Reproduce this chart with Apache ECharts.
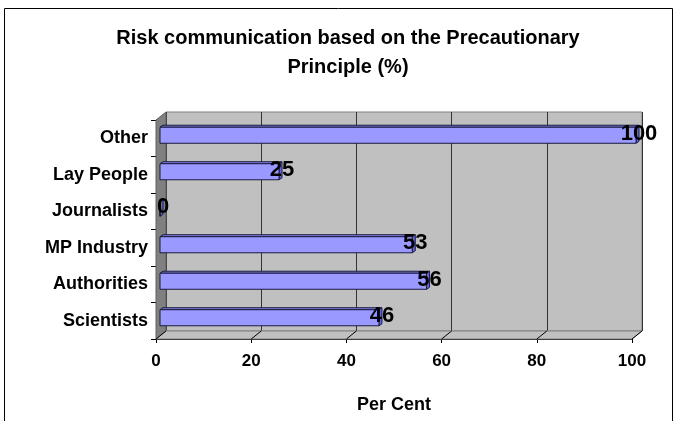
<!DOCTYPE html>
<html>
<head>
<meta charset="utf-8">
<script src="https://cdn.jsdelivr.net/npm/echarts@6/dist/echarts.min.js"></script>
<style>
  html, body { margin: 0; padding: 0; background: #fff; }
  #main { width: 677px; height: 421px; }
</style>
</head>
<body>
<div id="main"></div>
<script>
// categories listed bottom to top, as the category axis draws them
const categories = ['Scientists', 'Authorities', 'MP Industry', 'Journalists', 'Lay People', 'Other']
const values = [46, 56, 53, 0, 25, 100]
const xTicks = [0, 20, 40, 60, 80, 100]

const FONT = '"Liberation Sans", Arial, sans-serif'
// depth of the fake 3d box and of each bar
const DX = 10
const DY = -8
const BAR_DX = 3
const BAR_DY = -2

const chart = echarts.init(document.getElementById('main'))

function renderFrame (params, api) {
  const cs = params.coordSys
  const left = cs.x
  const top = cs.y
  const right = cs.x + cs.width
  const bottom = cs.y + cs.height
  const children = [
    // side wall
    {
      type: 'polygon',
      shape: { points: [[left, top], [left + DX, top + DY], [left + DX, bottom + DY], [left, bottom]] },
      style: { fill: '#808080', stroke: '#606060', lineWidth: 1 }
    },
    // floor
    {
      type: 'polygon',
      shape: { points: [[left, bottom], [left + DX, bottom + DY], [right + DX, bottom + DY], [right, bottom]] },
      style: { fill: '#c0c0c0', stroke: '#808080', lineWidth: 1 }
    }
  ]
  xTicks.forEach(t => {
    const p = api.coord([t, 0])
    children.push({
      type: 'line',
      shape: { x1: p[0], y1: bottom, x2: p[0] + DX, y2: bottom + DY },
      style: { stroke: '#000', lineWidth: 1 }
    })
  })
  return { type: 'group', children }
}

function renderBar (params, api) {
  const val = api.value(0)
  const cat = api.value(1)
  const start = api.coord([0, cat])
  const end = api.coord([val, cat])
  const band = api.size([0, 1])[1]
  const h = band * 0.44
  const x0 = start[0] + 4
  const x1 = end[0] + 4
  const yTop = start[1] - 3 - h / 2
  const yBot = yTop + h
  const stroke = '#1a1a40'
  return {
    type: 'group',
    children: [
      {
        type: 'polygon',
        shape: { points: [[x0, yTop], [x0 + BAR_DX, yTop + BAR_DY], [x1 + BAR_DX, yTop + BAR_DY], [x1, yTop]] },
        style: { fill: '#8080e0', stroke: stroke, lineWidth: 1 }
      },
      {
        type: 'polygon',
        shape: { points: [[x1, yTop], [x1 + BAR_DX, yTop + BAR_DY], [x1 + BAR_DX, yBot + BAR_DY], [x1, yBot]] },
        style: { fill: '#6666cc', stroke: stroke, lineWidth: 1 }
      },
      {
        type: 'rect',
        shape: { x: x0, y: yTop, width: x1 - x0, height: h },
        style: { fill: '#9999ff', stroke: stroke, lineWidth: 1 }
      },
      {
        type: 'text',
        style: {
          text: String(val),
          x: end[0] + 7,
          y: start[1] - 4.5,
          align: 'center',
          verticalAlign: 'middle',
          font: 'bold 22px ' + FONT,
          fill: '#000'
        }
      }
    ]
  }
}

chart.setOption({
  animation: false,
  title: {
    text: 'Risk communication based on the Precautionary\nPrinciple (%)',
    left: 348,
    top: 24,
    padding: 0,
    textAlign: 'center',
    textStyle: { fontFamily: FONT, fontWeight: 'bold', fontSize: 20, lineHeight: 29, color: '#000' }
  },
  graphic: [{
    type: 'rect',
    silent: true,
    z: -10,
    shape: { x: 4.5, y: 8.5, width: 668, height: 440 },
    style: { fill: 'none', stroke: '#000', lineWidth: 1 }
  }],
  grid: [
    // back wall
    { left: 166, right: 35, top: 112, bottom: 90, show: true, backgroundColor: '#c0c0c0', borderColor: '#808080', borderWidth: 1 },
    // front plane
    { left: 156, right: 45, top: 120, bottom: 82 }
  ],
  xAxis: [
    {
      gridIndex: 0,
      type: 'value',
      min: 0,
      max: 100,
      interval: 20,
      axisLine: { show: false },
      axisTick: { show: false },
      axisLabel: { show: false },
      splitLine: { show: true, lineStyle: { color: '#333', width: 1 } }
    },
    {
      gridIndex: 1,
      type: 'value',
      min: 0,
      max: 100,
      interval: 20,
      name: 'Per Cent',
      nameLocation: 'middle',
      nameGap: 57,
      nameTextStyle: { fontFamily: FONT, fontWeight: 'bold', fontSize: 18, color: '#000' },
      axisLine: { show: true, lineStyle: { color: '#000', width: 1 } },
      axisTick: { show: true, length: 4, lineStyle: { color: '#000' } },
      axisLabel: { margin: 14, fontFamily: FONT, fontWeight: 'bold', fontSize: 17, color: '#000' },
      splitLine: { show: false }
    }
  ],
  yAxis: [
    { gridIndex: 0, type: 'category', data: categories, show: false },
    {
      gridIndex: 1,
      type: 'category',
      data: categories,
      axisLine: { show: true, lineStyle: { color: '#000', width: 1 } },
      axisTick: { show: true, length: 5, lineStyle: { color: '#000' } },
      axisLabel: { margin: 8, fontFamily: FONT, fontWeight: 'bold', fontSize: 18, color: '#000' }
    }
  ],
  series: [
    {
      type: 'custom',
      name: 'frame',
      xAxisIndex: 1,
      yAxisIndex: 1,
      silent: true,
      z: 1,
      renderItem: renderFrame,
      data: [[0, 0]]
    },
    {
      type: 'custom',
      name: 'Per Cent',
      xAxisIndex: 1,
      yAxisIndex: 1,
      z: 3,
      renderItem: renderBar,
      encode: { x: 0, y: 1 },
      data: values.map((v, i) => [v, i])
    }
  ]
})
</script>
</body>
</html>
